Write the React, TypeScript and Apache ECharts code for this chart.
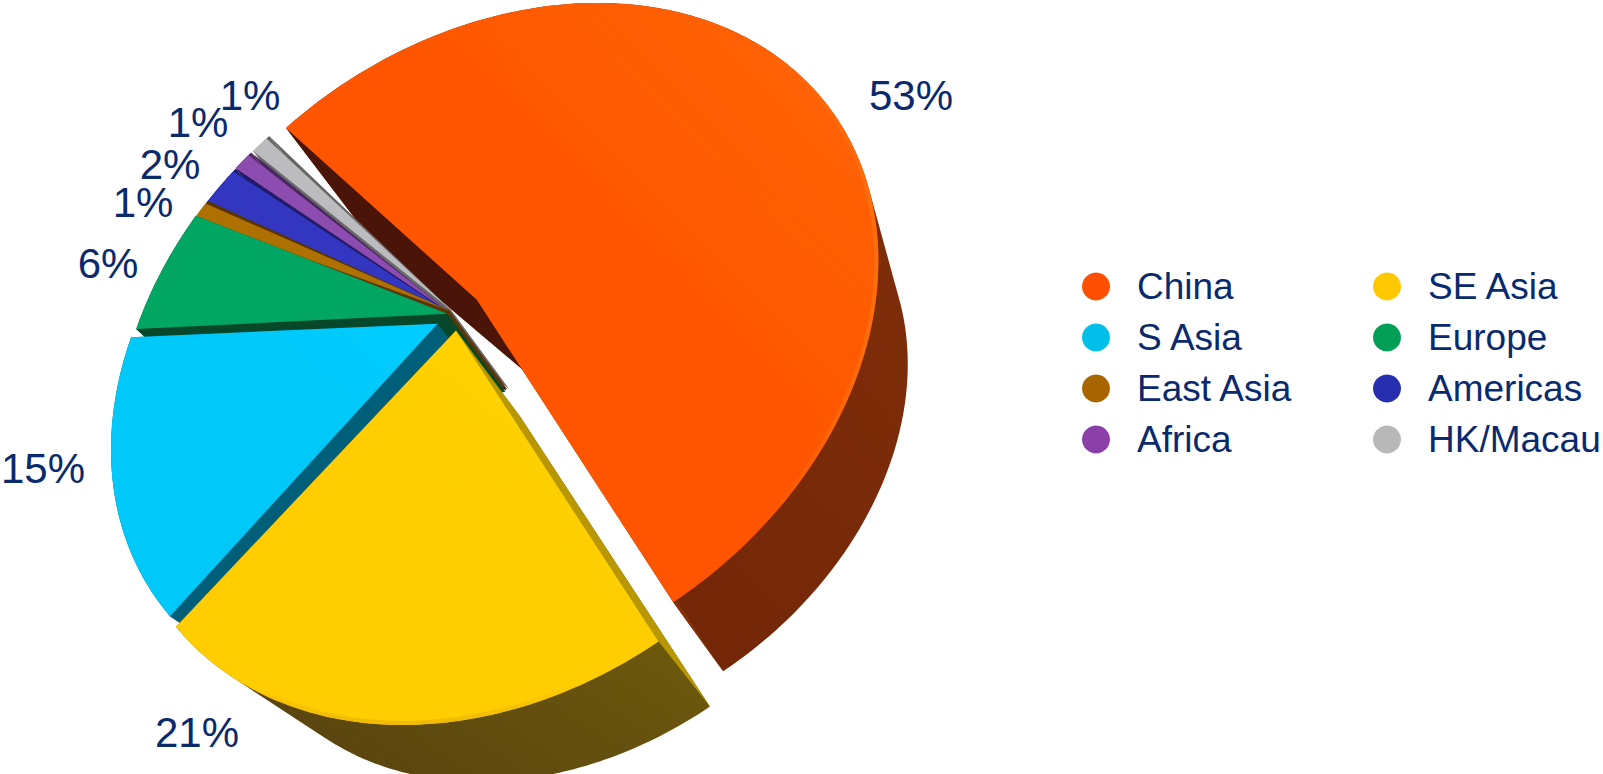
import React, { useEffect, useRef } from "react";
import * as echarts from "echarts";

// Revenue share by region, clockwise from the large China wedge.
const regions = ["China", "SE Asia", "S Asia", "Europe", "East Asia", "Americas", "Africa", "HK/Macau"];
const shares = [53, 21, 15, 6, 1, 2, 1, 1];
const legendLeft = ["China", "S Asia", "East Asia", "Africa"];
const legendRight = ["SE Asia", "Europe", "Americas", "HK/Macau"];

const topColors = ["#ff5500", "#ffcd00", "#00c8f8", "#00a661", "#ae7000", "#3236c0", "#8d4caf", "#bcbcbe"];
const topColorsLit = ["#ff6606", "#ffd600", "#00ccff", "#00a862", "#b07404", "#3438c4", "#914eb2", "#c2c4c4"];
const legendColors = ["#ff4f00", "#ffc800", "#00c0ea", "#009f55", "#a86500", "#282eb0", "#8a40a8", "#b8b8b8"];
const outerWallColors = ["#84300a", "#7a660a", "#005f78", "#0a4a2c", "#5a3305", "#1b1b70", "#4a2560", "#666666"];
const outerWallShadows = ["#6a2206", "#523e10", "#005f78", "#0a4a2c", "#5a3305", "#1b1b70", "#4a2560", "#666666"];
const edgeWallColors = ["#4a1408", "#b89700", "#005f78", "#07472a", "#5c3604", "#1a1a6e", "#472360", "#68696a"];

const ink = "#0a2a6e";
const fontFamily = '"Liberation Sans", Arial, sans-serif';

// Small in-plane displacement of each wedge, in disc radii (x right, y down).
const explode = [
  [0.05, -0.047], [0.018, 0.015], [-0.006, 0.01], [0.004, -0.012],
  [0.002, -0.004], [0, 0], [0, -0.002], [0.006, -0.006],
];
// In-plane squash of each wedge's rim (x, y).
const wedgeScale = [
  [0.99, 0.97], [1, 1], [1, 0.97], [1, 1], [1, 1], [1, 1], [1, 1], [1, 1],
];
// The wedge tips do not meet at the projected disc centre; pixel correction per wedge.
const apexNudge = [
  [-4, -8], [-10, 0], [-20, -6], [-15, -8], [-12, -14], [-12, -14], [-12, -14], [-12, -14],
];
// Degrees trimmed from each top face on its leading side, exposing the wall beneath.
const facePad = [0, 0, 0, 0, 0.6, 0.6, 0.6, 0.6];
// Extrusion strength, as a fraction of the way to the vanishing point: rim and tip.
const wedgeDepth = [0.1, 0.1, 0.1, 0.08, 0.08, 0.08, 0.08, 0.08];
const tipDepth = [0.077, 0.09, 0.1, 0.08, 0.08, 0.08, 0.08, 0.08];
const rimGlow = [
  { color: "#ff6e0e", from: [0, 0, 1, 0], start: 0.8 },
  { color: "#f0bb00", from: [0, 0, 0, 1], start: 0.6 },
];
const glowInset = 0.995;

const wedgeOrder = [7, 6, 5, 4, 3, 2, 1, 0];
const labelCentres = [
  [911, 95], [197, 732], [43, 468], [108, 263], [143, 202], [170, 164], [198, 122], [250, 95],
];

// Perspective of the disc: four rim angles and where they land on the page.
const rimCalibration = [
  { afterSlices: 0, at: [267, 138] },
  { afterSlices: 1, at: [651, 635] },
  { afterSlices: 2, at: [171, 621] },
  { afterSlices: 3, at: [134, 333] },
];
const discRotation = -45;
const vanishing = [1172, 1292];

const cumulative = shares.reduce<number[]>((acc, v) => [...acc, acc[acc.length - 1] + v], [0]);
const total = cumulative[cumulative.length - 1];
const angleAt = (i: number) => (cumulative[i] / total) * 360;

const onDisc = (deg: number) => {
  const r = ((deg + discRotation) * Math.PI) / 180;
  return [Math.sin(r), -Math.cos(r)];
};

function solve(A: number[][], b: number[]) {
  const n = b.length;
  const M = A.map((row, i) => [...row, b[i]]);
  for (let c = 0; c < n; c++) {
    let p = c;
    for (let r = c + 1; r < n; r++) if (Math.abs(M[r][c]) > Math.abs(M[p][c])) p = r;
    [M[c], M[p]] = [M[p], M[c]];
    for (let r = 0; r < n; r++) {
      if (r === c) continue;
      const f = M[r][c] / M[c][c];
      for (let k = c; k <= n; k++) M[r][k] -= f * M[c][k];
    }
  }
  return M.map((row, i) => row[n] / row[i]);
}

const homography = (() => {
  const A: number[][] = [];
  const b: number[] = [];
  rimCalibration.forEach(({ afterSlices, at }) => {
    const [x, y] = onDisc(angleAt(afterSlices));
    A.push([x, y, 1, 0, 0, 0, -x * at[0], -y * at[0]]);
    b.push(at[0]);
    A.push([0, 0, 0, x, y, 1, -x * at[1], -y * at[1]]);
    b.push(at[1]);
  });
  return solve(A, b);
})();

const project = (x: number, y: number) => {
  const h = homography;
  const w = h[6] * x + h[7] * y + 1;
  return [(h[0] * x + h[1] * y + h[2]) / w, (h[3] * x + h[4] * y + h[5]) / w];
};
const sinkBy = (k: number) => (p: number[]) => [p[0] + k * (vanishing[0] - p[0]), p[1] + k * (vanishing[1] - p[1])];

const signedArea = (pts: number[][]) =>
  pts.reduce((s, p, i) => {
    const q = pts[(i + 1) % pts.length];
    return s + p[0] * q[1] - q[0] * p[1];
  }, 0);
const toSubpath = (pts: number[][]) => {
  const ordered = signedArea(pts) < 0 ? [...pts].reverse() : pts;
  return "M" + ordered.map((p) => `${p[0].toFixed(2)} ${p[1].toFixed(2)}`).join("L") + "Z";
};

const renderWedge = (params: any, api: any) => {
  const i = params.seriesIndex;
  const share = api.value(0);
  const start = angleAt(i);
  const sweep = (share / total) * 360;
  const [ex, ey] = explode[i];
  const [sx, sy] = wedgeScale[i];
  const steps = Math.max(3, Math.ceil(sweep));
  const rimAt = (deg: number, radius = 1) => {
    const [x, y] = onDisc(deg);
    return project(x * sx * radius + ex, y * sy * radius + ey);
  };
  const rim: number[][] = [];
  const faceRim: number[][] = [];
  const glowRim: number[][] = [];
  for (let s = 0; s <= steps; s++) {
    rim.push(rimAt(start + (sweep * s) / steps));
    faceRim.push(rimAt(start + ((sweep - facePad[i]) * s) / steps));
    glowRim.push(rimAt(start + (sweep * s) / steps, glowInset));
  }
  const centre = project(ex, ey);
  const apex = [centre[0] + apexNudge[i][0], centre[1] + apexNudge[i][1]];
  const rimLow = rim.map(sinkBy(wedgeDepth[i]));
  const apexLow = sinkBy(tipDepth[i])(apex);

  let outer = toSubpath([apexLow, ...rimLow]);
  for (let s = 0; s < steps; s++) {
    outer += toSubpath([rim[s], rim[s + 1], rimLow[s + 1], rimLow[s]]);
  }
  const edgeA = toSubpath([apex, rim[0], rimLow[0], apexLow]);
  const edgeB = toSubpath([apex, rim[steps], rimLow[steps], apexLow]);

  const order = wedgeOrder.indexOf(i);
  const wallZ = i === 0 ? 1 : 10 + order * 10;
  const topZ = i === 0 ? 100 : wallZ + 2;
  const glow = rimGlow[i];

  const children: any[] = [
    {
      type: "path",
      z2: wallZ,
      shape: { pathData: outer },
      style: {
        fill: new echarts.graphic.LinearGradient(1, 0, 0, 1, [
          { offset: 0, color: outerWallColors[i] },
          { offset: 1, color: outerWallShadows[i] },
        ]),
      },
    },
    { type: "path", z2: wallZ + 1, shape: { pathData: edgeB }, style: { fill: outerWallColors[i] } },
    { type: "path", z2: wallZ + 1, shape: { pathData: edgeA }, style: { fill: edgeWallColors[i] } },
    {
      type: "polygon",
      z2: topZ,
      shape: { points: [apex, ...faceRim] },
      style: {
        fill: new echarts.graphic.LinearGradient(0, 1, 1, 0, [
          { offset: 0, color: topColors[i] },
          { offset: 0.55, color: topColors[i] },
          { offset: 1, color: topColorsLit[i] },
        ]),
      },
    },
    {
      type: "text",
      z2: 200,
      style: {
        text: `${share}%`,
        x: labelCentres[i][0],
        y: labelCentres[i][1],
        fill: ink,
        font: `42px ${fontFamily}`,
        align: "center",
        verticalAlign: "middle",
      },
    },
  ];
  if (glow) {
    children.push({
      type: "polyline",
      z2: topZ + 1,
      shape: { points: glowRim },
      style: {
        fill: "none",
        lineWidth: 4,
        stroke: new echarts.graphic.LinearGradient(glow.from[0], glow.from[1], glow.from[2], glow.from[3], [
          { offset: 0, color: glow.color + "00" },
          { offset: glow.start, color: glow.color + "00" },
          { offset: 1, color: glow.color },
        ]),
      },
    });
  }
  return { type: "group", children };
};

const legendBase = {
  orient: "vertical",
  icon: "circle",
  itemWidth: 28,
  itemHeight: 28,
  itemGap: 14,
  selectedMode: false,
  textStyle: { color: ink, fontFamily, fontSize: 37, padding: [0, 0, 0, 22] },
};

export default function App() {
  const ref = useRef<HTMLDivElement>(null);
  useEffect(() => {
    const chart = echarts.init(ref.current!, null, { renderer: "svg" });
    chart.setOption({
      animation: false,
      backgroundColor: "#ffffff",
      legend: [
        { ...legendBase, left: 1077, top: 263, data: legendLeft },
        { ...legendBase, left: 1368, top: 263, data: legendRight },
      ],
      series: regions.map((name, i) => ({
        type: "custom",
        name,
        coordinateSystem: "none",
        silent: true,
        itemStyle: { color: legendColors[i] },
        renderItem: renderWedge,
        data: [shares[i]],
      })),
    });
    return () => chart.dispose();
  }, []);
  return <div ref={ref} style={{ position: "fixed", left: 0, top: 0, width: 1603, height: 774 }} />;
}
